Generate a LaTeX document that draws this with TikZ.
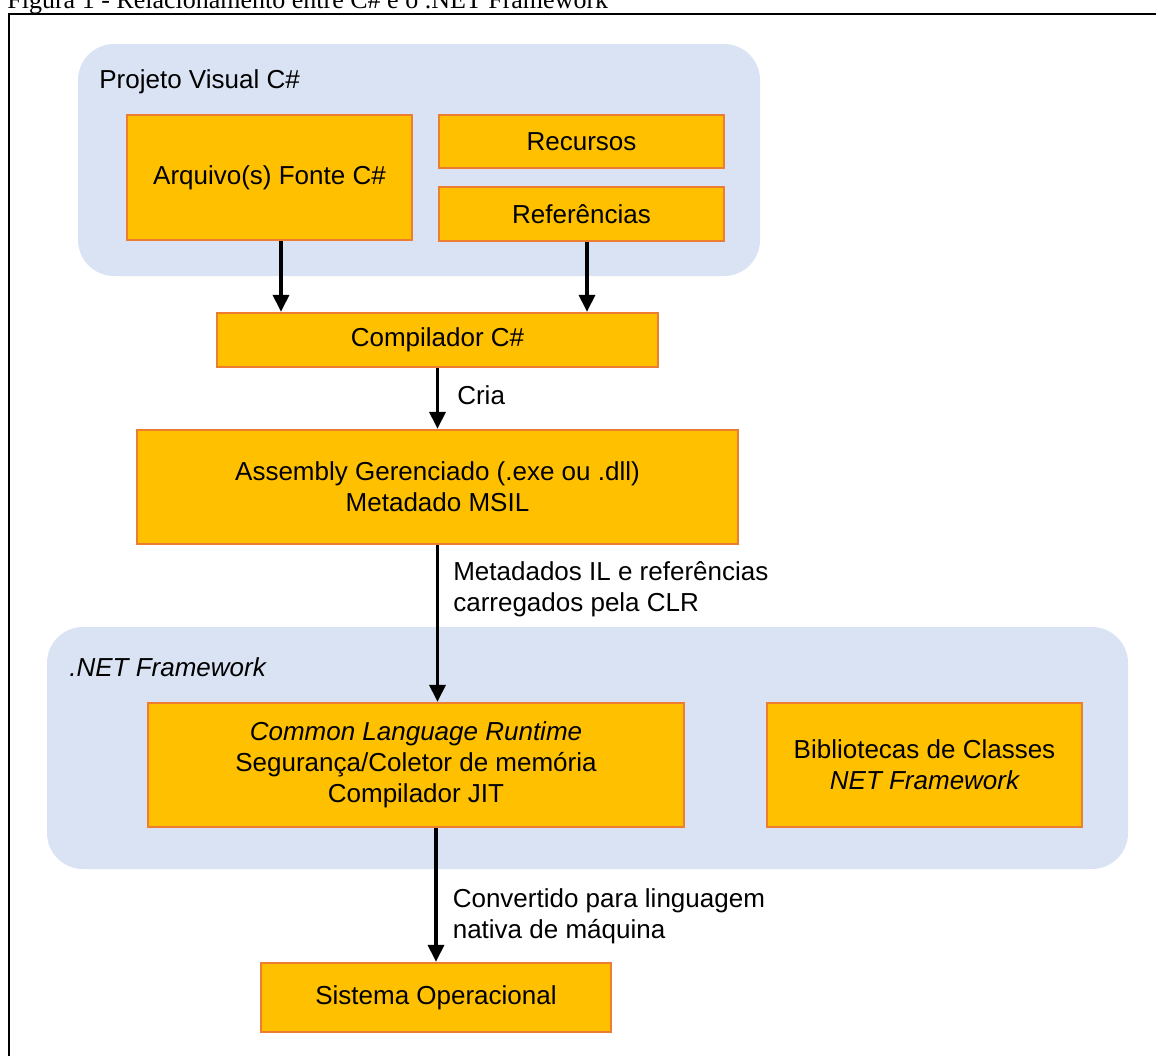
\documentclass[tikz,border=0pt]{standalone}
\usepackage{fontspec}
\setmainfont{Liberation Sans}
\newfontfamily\serifcap{Liberation Serif}
\usetikzlibrary{arrows.meta}
\definecolor{boxfill}{HTML}{FFC000}
\definecolor{boxline}{HTML}{ED7D31}
\definecolor{groupfill}{HTML}{DAE3F3}
\tikzset{
  box/.style={draw=boxline,fill=boxfill,line width=1.2pt,align=center,font=\fontsize{13}{15.5}\selectfont},
  group/.style={fill=groupfill,rounded corners=18pt},
  flow/.style={-{Triangle[length=8.5pt,width=8pt]},line width=1.8pt},
  lbl/.style={anchor=west,inner sep=0pt,align=left,font=\fontsize{13}{15.5}\selectfont}
}
\begin{document}
\begin{tikzpicture}[x=0.5pt,y=-0.5pt]
 \useasboundingbox (0,0) rectangle (1156,1055);
 \clip (0,0) rectangle (1156,1055);
 % caption and frame
 \node[anchor=base west,inner sep=0pt,font=\serifcap\fontsize{13}{15}\selectfont] (caption) at (7,8) {Figura 1 - Relacionamento entre C\# e o .NET Framework};
 \draw[line width=1.2pt] (9,1100) -- (9,14) -- (1200,14);
 % groups
 \fill[group] (78,44) rectangle (760,276);
 \fill[group] (47,627) rectangle (1128,869);
 \node[lbl] (projlbl) at (99,82) {Projeto Visual C\#};
 \node[lbl] (netlbl) at (69,667) {\itshape .NET Framework};
 % boxes
 \node[box,minimum width=142.5pt,minimum height=62.5pt] (fonte) at (269.5,177.5) {Arquivo(s) Fonte C\#};
 \node[box,minimum width=142.5pt,minimum height=26.5pt] (recursos) at (581.5,141.5) {Recursos};
 \node[box,minimum width=142.5pt,minimum height=27pt] (refs) at (581.5,214) {Referências};
 \node[box,minimum width=220.5pt,minimum height=27pt] (comp) at (437.5,340) {Compilador C\#};
 \node[box,minimum width=300.5pt,minimum height=57pt] (asm) at (437.5,487) {Assembly Gerenciado (.exe ou .dll)\\Metadado MSIL};
 \node[box,minimum width=268pt,minimum height=62pt] (clr) at (416,765) {\itshape Common Language Runtime\\Segurança/Coletor de memória\\Compilador JIT};
 \node[box,minimum width=157.5pt,minimum height=62pt] (bib) at (924.5,765) {Bibliotecas de Classes\\\itshape NET Framework};
 \node[box,minimum width=175pt,minimum height=34.5pt] (so) at (436,997.5) {Sistema Operacional};
 % arrows
 \draw[flow] ([xshift=5.75pt]fonte.south) -- ([xshift=5.75pt]fonte.south |- comp.north);
 \draw[flow] ([xshift=2.75pt]refs.south) -- ([xshift=2.75pt]refs.south |- comp.north);
 \draw[flow] (comp.south) -- node[lbl,pos=0.44,xshift=9pt] (cria) {Cria} (asm.north);
 \draw[flow] (asm.south) -- node[lbl,pos=0.28,xshift=7pt] (carga) {Metadados IL e referências\\carregados pela CLR} (asm.south |- clr.north);
 \draw[flow] (so.north |- clr.south) -- node[lbl,pos=0.66,xshift=7.5pt] (conv) {Convertido para linguagem\\nativa de máquina} (so.north);
\end{tikzpicture}
\end{document}
